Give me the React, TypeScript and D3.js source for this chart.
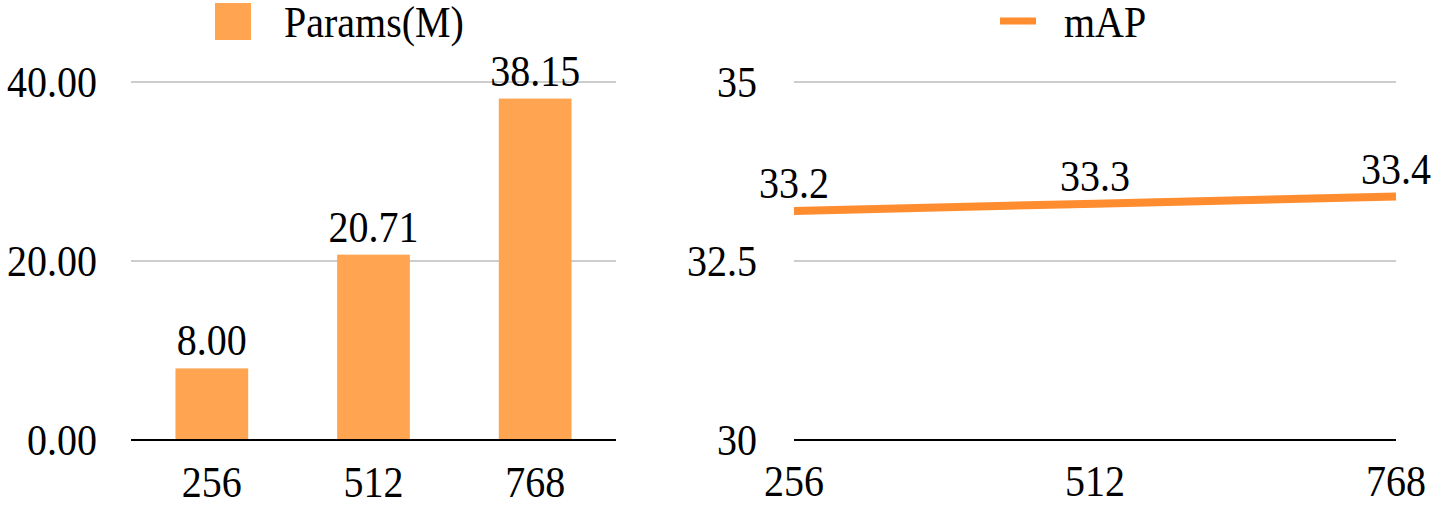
import React from "react";
import * as d3 from "d3";

const categories = ["256", "512", "768"];
const params = [8.0, 20.71, 38.15];
const paramTicks = [0, 20, 40];
const mapValues = [33.2, 33.3, 33.4];
const mapTicks = [30, 32.5, 35];

const W = 1443;
const H = 505;
const FONT = "Liberation Serif";
const FS = 40;
const BAR = "#FFA552";
const LINE = "#FF8C2E";
const GRID = "#BDBDBD";
const stretch = "scale(1,1.1)";

const T = ({ x, y, anchor = "middle", children }: any) => (
  <text
    transform={`translate(${x},${y}) ${stretch}`}
    textAnchor={anchor}
    style={{ fontFamily: FONT, fontSize: FS }}
    fill="#000"
  >
    {children}
  </text>
);

const App = () => {
  // left: bars
  const xb = d3.scaleBand().domain(categories).range([131, 616]).paddingInner(0.55).paddingOuter(0.275);
  const yb = d3.scaleLinear().domain([0, 40]).range([440, 82]);

  // right: line
  const xl = d3.scalePoint().domain(categories).range([794, 1396]);
  const yl = d3.scaleLinear().domain([30, 35]).range([440, 82]);
  const line = d3
    .line<number>()
    .x((_, i) => xl(categories[i])!)
    .y((d) => yl(d));

  return (
    <svg width={W} height={H} style={{ position: "absolute", left: 0, top: 0, background: "#fff" }}>
      {/* left chart */}
      {paramTicks.map((t) => (
        <g key={"pt" + t}>
          {t !== 0 && <line x1={131} x2={616} y1={yb(t)} y2={yb(t)} stroke={GRID} strokeWidth={1.5} />}
          <T x={97} y={yb(t) + 15} anchor="end">{t.toFixed(2)}</T>
        </g>
      ))}
      {params.map((v, i) => (
        <g key={"b" + i}>
          <rect x={xb(categories[i])} y={yb(v)} width={xb.bandwidth()} height={yb(0) - yb(v)} fill={BAR} />
          <T x={xb(categories[i])! + xb.bandwidth() / 2} y={yb(v) - 13}>{v.toFixed(2)}</T>
          <T x={xb(categories[i])! + xb.bandwidth() / 2} y={497}>{categories[i]}</T>
        </g>
      ))}
      <line x1={131} x2={616} y1={yb(0)} y2={yb(0)} stroke="#000" strokeWidth={2} />
      <rect x={215} y={3} width={36} height={37} fill={BAR} />
      <T x={284} y={37} anchor="start">Params(M)</T>

      {/* right chart */}
      {mapTicks.map((t) => (
        <g key={"mt" + t}>
          {t !== 30 && <line x1={794} x2={1396} y1={yl(t)} y2={yl(t)} stroke={GRID} strokeWidth={1.5} />}
          <T x={757} y={yl(t) + 15} anchor="end">{String(t)}</T>
        </g>
      ))}
      <line x1={794} x2={1396} y1={yl(30)} y2={yl(30)} stroke="#000" strokeWidth={2} />
      <path d={line(mapValues) || ""} fill="none" stroke={LINE} strokeWidth={8} />
      {mapValues.map((v, i) => (
        <T key={"ml" + i} x={xl(categories[i])!} y={yl(v) - 13}>{v.toFixed(1)}</T>
      ))}
      {categories.map((c) => (
        <T key={"xl" + c} x={xl(c)!} y={496}>{c}</T>
      ))}
      <line x1={1000} x2={1036} y1={21} y2={21} stroke={LINE} strokeWidth={7} />
      <T x={1064} y={37} anchor="start">mAP</T>
    </svg>
  );
};

export default App;
